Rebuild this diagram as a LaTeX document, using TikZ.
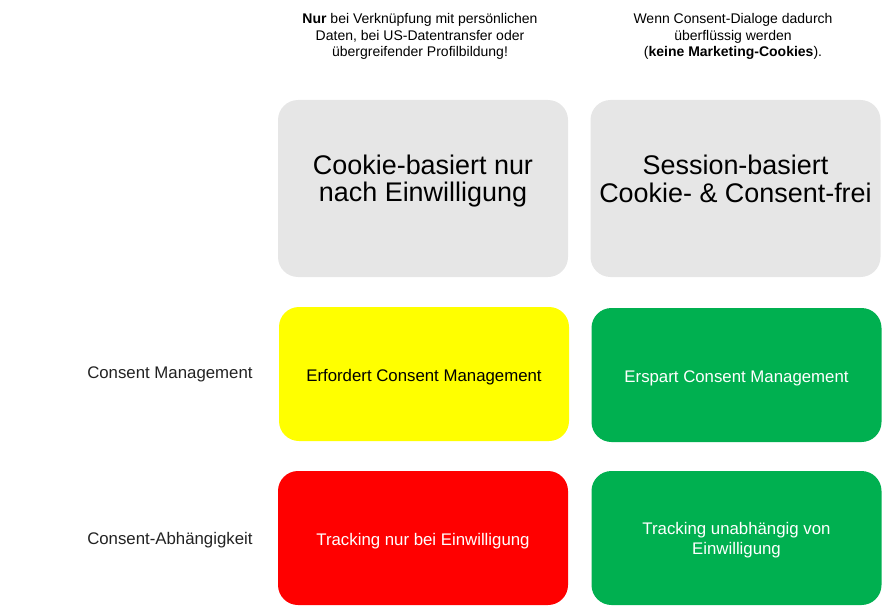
\documentclass[tikz,border=0pt]{standalone}
\usepackage{fontspec}
\setmainfont{Liberation Sans}

\begin{document}
\begin{tikzpicture}[x=0.75pt,y=-0.75pt,
    feld/.style={rectangle,rounded corners=15pt,inner sep=0pt,
      minimum width=217.5pt,minimum height=100.5pt},
    kopf/.style={feld,minimum height=132.75pt,fill=grau},
    feldtext/.style={align=center,inner sep=0pt,font=\fontsize{12.6}{15.5}\selectfont},
    kopftext/.style={align=center,inner sep=0pt,font=\fontsize{20.2}{20.5}\selectfont},
    hinweis/.style={align=center,inner sep=0pt,font=\fontsize{10.5}{12.4}\selectfont},
    zeile/.style={anchor=west,inner sep=0pt,text=textgrau,font=\fontsize{12.6}{15}\selectfont}]
    \definecolor{grau}{HTML}{E6E6E6}
    \definecolor{gelb}{HTML}{FFFF00}
    \definecolor{gruen}{HTML}{00B050}
    \definecolor{rot}{HTML}{FF0000}
    \definecolor{textgrau}{HTML}{222222}
    \useasboundingbox (0,0) rectangle (888,606);
    % Hinweise oben
    \draw (420,36.5) node[hinweis] (hinweisL) {\textbf{Nur} bei Verknüpfung mit persönlichen\\Daten, bei US-Datentransfer oder\\übergreifender Profilbildung!};
    \draw (733,36.5) node[hinweis] (hinweisR) {Wenn Consent-Dialoge dadurch\\überflüssig werden\\(\textbf{keine Marketing-Cookies}).};
    % Kopfzeile
    \draw (423,188.5) node[kopf] (cookie) {};
    \draw (735.5,188.5) node[kopf] (session) {};
    \draw (423,181) node[kopftext] (cookieText) {Cookie-basiert nur\\nach Einwilligung};
    \draw (735.5,179) node[kopftext] (sessionText) {Session-basiert\\Cookie- \& Consent-frei};
    % Zeilen
	\draw (87,374) node[zeile] (management) {Consent Management};
	\draw (87,540) node[zeile] (abhaengig) {Consent-Abhängigkeit};
    \draw (424,374) node[feld,fill=gelb] (erfordert) {};
    \draw (736.5,375) node[feld,fill=gruen] (erspart) {};
	\draw (423,538) node[feld,fill=rot] (nurbei) {};
	\draw (736.5,538) node[feld,fill=gruen] (unabh) {};
    \draw (424,377) node[feldtext] (erfordertText) {Erfordert Consent Management};
    \draw (736.5,378) node[feldtext,text=white] (erspartText) {Erspart Consent Management};
	\draw (423,541) node[feldtext,text=white] (nurbeiText) {Tracking nur bei Einwilligung};
	\draw (736.5,540) node[feldtext,text=white] (unabhText) {Tracking unabhängig von\\Einwilligung};
\end{tikzpicture}
\end{document}
